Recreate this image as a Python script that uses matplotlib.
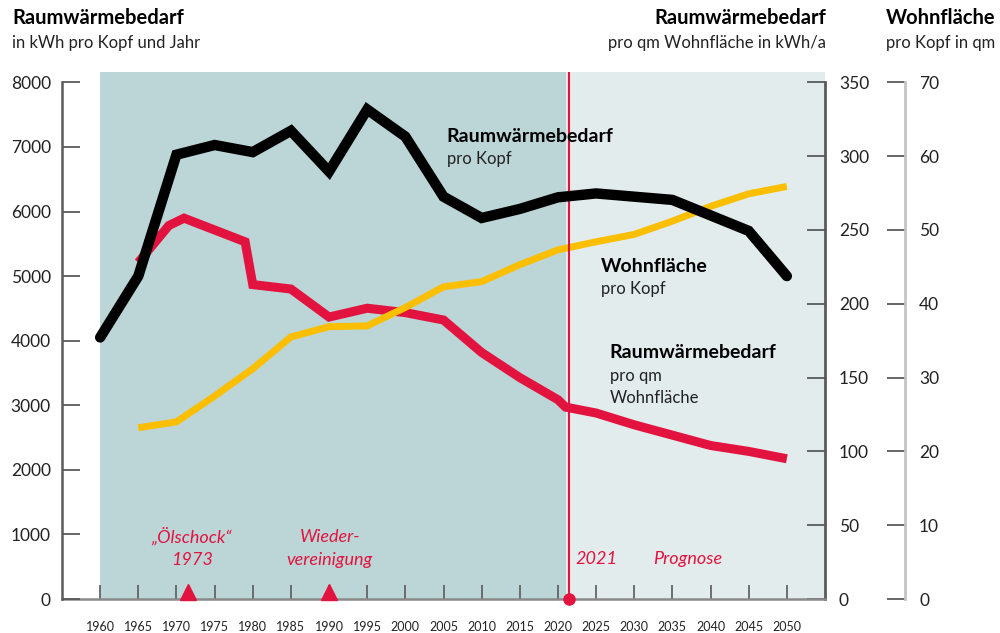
import matplotlib
matplotlib.use("Agg")
import matplotlib.pyplot as plt

plt.rcParams['font.family'] = ['Lato', 'DejaVu Sans']

# Raumwärmebedarf pro Kopf (kWh/Jahr), linke Achse
years_kopf = [1960, 1965, 1970, 1975, 1980, 1985, 1990, 1995, 2000, 2005,
              2010, 2015, 2020, 2025, 2030, 2035, 2040, 2045, 2050]
waerme_kopf = [4050, 5000, 6880, 7030, 6920, 7250, 6620, 7580, 7160, 6230,
               5900, 6040, 6220, 6280, 6230, 6180, 5940, 5700, 5000]

# Raumwärmebedarf pro qm Wohnfläche (kWh/a), mittlere Achse
years_qm = [1965, 1969, 1971, 1979, 1980, 1985, 1990, 1995, 2000, 2005,
            2010, 2015, 2020, 2021, 2025, 2030, 2035, 2040, 2045, 2050]
waerme_qm = [228, 253, 258, 242, 213, 210, 191, 197, 194, 189,
             167, 150, 135, 130, 126, 118, 111, 104, 100, 95]

# Wohnfläche pro Kopf (qm), rechte Achse
years_wf = [1965, 1970, 1975, 1980, 1985, 1990, 1995, 2000, 2005, 2010,
            2015, 2020, 2025, 2030, 2035, 2040, 2045, 2050]
wohnflaeche = [23.2, 24.0, 27.5, 31.2, 35.5, 36.9, 37.0, 39.5, 42.3, 43.0,
               45.3, 47.3, 48.4, 49.4, 51.2, 53.2, 54.9, 55.9]

x_ticks = list(range(1960, 2051, 5))
event_years = [1971.5, 1990]
prognose_start = 2021

RED = '#e2133f'
YELLOW = '#fbbf00'
DARK = '#bcd6d7'
LIGHT = '#e2eced'
GREY = '#5a5a5a'

fig = plt.figure(figsize=(10, 6.33), dpi=100)
ax_r = fig.add_axes([0.062, 0.0537, 0.763, 0.832])
ax = ax_r.twinx()
ax_w = ax_r.twinx()
ax_r.set_zorder(1)
ax_w.set_zorder(2)
ax.set_zorder(3)
ax.patch.set_visible(False)
ax_w.patch.set_visible(False)

ax_r.set_xlim(1955, 2055)
ax.set_ylim(0, 8155)
ax_r.set_ylim(0, 350 * 8155 / 8000)
ax_w.set_ylim(0, 70 * 8155 / 8000)

# Hintergrund: Vergangenheit und Prognose
ax_r.axvspan(1960, prognose_start, color=DARK, lw=0, zorder=0)
ax_r.axvspan(prognose_start, 2055, color=LIGHT, lw=0, zorder=0)

ax_r.plot(years_qm, waerme_qm, color=RED, lw=6.5, solid_joinstyle='miter',
          solid_capstyle='butt')
ax_w.plot(years_wf, wohnflaeche, color=YELLOW, lw=5, solid_joinstyle='miter',
          solid_capstyle='butt')
ax.plot(years_kopf, waerme_kopf, color='black', lw=7.5, solid_joinstyle='miter',
        solid_capstyle='round')

# 2021-Linie mit Punkt
ax.axvline(prognose_start + 0.4, color=RED, lw=1.5, zorder=1)
ax.plot([prognose_start + 0.4], [0], 'o', color=RED, ms=8, clip_on=False, zorder=5)
ax.plot(event_years, [105] * len(event_years), '^', color=RED, ms=11,
        clip_on=False, zorder=5)

# Achsen
for a in (ax, ax_r, ax_w):
    for s in a.spines.values():
        s.set_visible(False)

ax_r.spines['bottom'].set_visible(True)
ax_r.spines['bottom'].set_color('#8a8a8a')
ax_r.spines['bottom'].set_linewidth(1.8)

# linke Achse: pro Kopf
ax.yaxis.set_ticks_position('left')
ax.yaxis.set_label_position('left')
ax.spines['left'].set_visible(True)
ax.spines['left'].set_bounds(0, 8000)
ax.spines['left'].set_color(GREY)
ax.spines['left'].set_linewidth(1.8)
ax.set_yticks(range(0, 8001, 1000))
ax.tick_params(axis='y', direction='in', length=13, width=1.3, color=GREY,
               labelsize=12.5, pad=8, labelcolor='#222222')

# mittlere Achse: pro qm
ax_r.yaxis.set_ticks_position('right')
ax_r.spines['right'].set_visible(True)
ax_r.spines['right'].set_bounds(0, 350)
ax_r.spines['right'].set_color(GREY)
ax_r.spines['right'].set_linewidth(2)
ax_r.set_yticks(range(0, 351, 50))
ax_r.tick_params(axis='y', direction='in', length=13, width=1.3, color=GREY,
                 labelsize=12.5, pad=10, labelcolor='#222222')

# rechte Achse: Wohnfläche
ax_w.spines['right'].set_visible(True)
ax_w.spines['right'].set_position(('axes', 1.105))
ax_w.spines['right'].set_bounds(0, 70)
ax_w.spines['right'].set_color('#c4c4c4')
ax_w.spines['right'].set_linewidth(2)
ax_w.set_yticks(range(0, 71, 10))
ax_w.tick_params(axis='y', direction='in', length=13, width=1.3, color=GREY,
                 labelsize=12.5, pad=10, labelcolor='#222222')

ax_r.set_xticks(x_ticks)
ax_r.tick_params(axis='x', direction='in', length=10, width=1.2, color=GREY,
                 labelsize=9, pad=16, labelcolor='#222222')
for a in (ax, ax_w):
    a.tick_params(axis='x', bottom=False, top=False, labelbottom=False,
                  labeltop=False)

# Titel
fig.text(0.012, 0.972, 'Raumwärmebedarf', fontsize=14.5, fontweight='bold',
         va='center', ha='left')
fig.text(0.012, 0.932, 'in kWh pro Kopf und Jahr', fontsize=12, va='center',
         ha='left', color='#222222')
fig.text(0.826, 0.972, 'Raumwärmebedarf', fontsize=14.5, fontweight='bold',
         va='center', ha='right')
fig.text(0.826, 0.932, 'pro qm Wohnfläche in kWh/a', fontsize=12, va='center',
         ha='right', color='#222222')
fig.text(0.886, 0.972, 'Wohnfläche', fontsize=14.5, fontweight='bold',
         va='center', ha='left')
fig.text(0.886, 0.932, 'pro Kopf in qm', fontsize=12, va='center',
         ha='left', color='#222222')

# Beschriftungen im Diagramm
def label(x, y, head, lines):
    ax.text(x, y, head, fontsize=14, fontweight='bold', va='center', ha='left')
    for i, t in enumerate(lines):
        ax.text(x, y - 350 * (i + 1), t, fontsize=12, va='center', ha='left',
                color='#222222')

label(2005.4, 7160, 'Raumwärmebedarf', ['pro Kopf'])
label(2025.6, 5150, 'Wohnfläche', ['pro Kopf'])
label(2026.8, 3810, 'Raumwärmebedarf', ['pro qm', 'Wohnfläche'])

red_kw = dict(color=RED, fontsize=13, fontstyle='italic', va='center')
ax.text(1972.0, 960, '„Ölschock“', ha='center', **red_kw)
ax.text(1972.0, 605, '1973', ha='center', **red_kw)
ax.text(1990.1, 960, 'Wieder-', ha='center', **red_kw)
ax.text(1990.1, 605, 'vereinigung', ha='center', **red_kw)
ax.text(2022.3, 620, '2021', ha='left', **red_kw)
ax.text(2032.5, 620, 'Prognose', ha='left', **red_kw)

fig.savefig('out.png', dpi=100)
